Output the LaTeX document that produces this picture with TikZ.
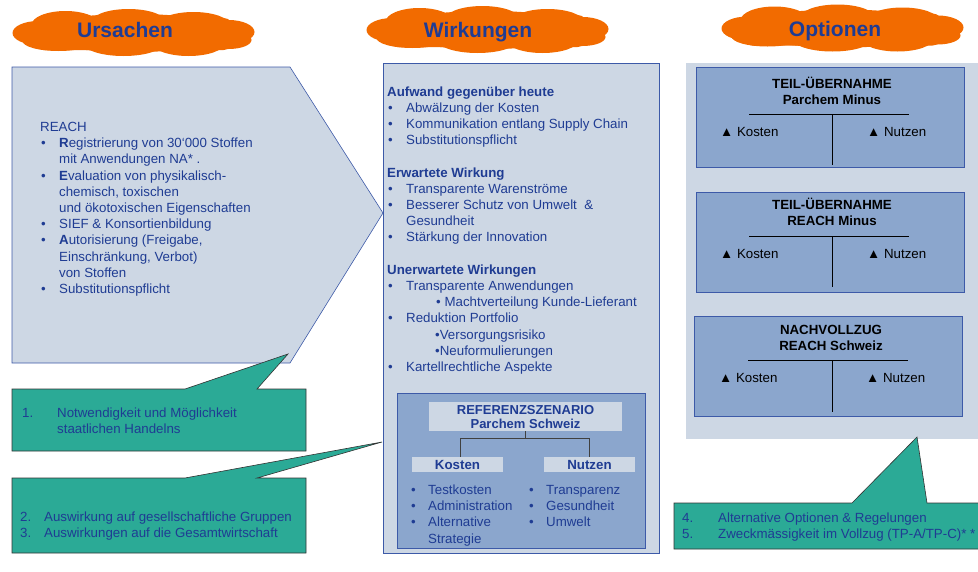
\documentclass[tikz,border=0pt]{standalone}
\usepackage{fontspec}
\setmainfont{Liberation Sans}
\definecolor{lightfill}{HTML}{CDD7E4}
\definecolor{midblue}{HTML}{8BA6CD}
\definecolor{tealc}{HTML}{2BAA96}
\definecolor{orangec}{HTML}{F26B00}
\definecolor{txtblue}{HTML}{1F3C93}
\definecolor{bordc}{HTML}{3D5AA8}
\newcommand\fsz{\fontsize{13.3}{16.2}\selectfont}
\newcommand\bitem[2][19pt]{\makebox[#1][l]{\hspace{1pt}•}#2}
\newcommand\bcont[2][19pt]{\hspace*{#1}#2}
\newcommand\orcloud[1]{%
 \begin{scope}[shift={#1}]
  \fill[orangec, rounded corners=10pt] (-100,-15) rectangle (100,17);
  \fill[orangec] (0,0) ellipse [x radius=106, y radius=19];
  \fill[orangec] (-68,-8) ellipse [x radius=34, y radius=14];
  \fill[orangec] (-5,-10) ellipse [x radius=38, y radius=14];
  \fill[orangec] (60,-8) ellipse [x radius=36, y radius=13];
  \fill[orangec] (95,-1) ellipse [x radius=26, y radius=12];
  \fill[orangec] (-95,0) ellipse [x radius=26, y radius=12];
  \fill[orangec] (-75,8) ellipse [x radius=36, y radius=10];
  \fill[orangec] (-10,10) ellipse [x radius=40, y radius=13];
  \fill[orangec] (55,10) ellipse [x radius=36, y radius=13];
  \fill[orangec] (95,7) ellipse [x radius=23, y radius=9];
 \end{scope}}
\begin{document}
\begin{tikzpicture}[x=1pt,y=-1pt,
  cloudtxt/.style={anchor=base, inner sep=0pt, text=txtblue, font=\fontsize{21}{24}\selectfont\bfseries},
  txt/.style={anchor=base west, inner sep=0pt, text=txtblue, font=\fsz},
  blk/.style={anchor=base, inner sep=0pt, text=black, font=\fontsize{13.3}{16}\selectfont\bfseries},
  optbox/.style={draw=bordc, fill=midblue, line width=0.6pt, minimum width=268pt, minimum height=100pt, inner sep=0pt},
  lbox/.style={fill=lightfill, draw=none, inner sep=0pt},
  callout/.style={fill=tealc, draw=black!80, line width=0.6pt},
  thin/.style={draw=black, line width=0.6pt}
]
\useasboundingbox (0,0) rectangle (978,571);

% clouds
\orcloud{(133.5,33)}
\orcloud{(487.5,30)}
\orcloud{(842.5,28.5)}
\node[cloudtxt] (cu) at (125,37) {Ursachen};
\node[cloudtxt] (cw) at (478,37) {Wirkungen};
\node[cloudtxt] (co) at (835,36) {Optionen};

% Ursachen arrow shape
\draw[fill=lightfill, draw=bordc, line width=0.6pt] (12,67) -- (290,67) -- (383,213) -- (290,363) -- (12,363) -- cycle;
\node[txt] (utext) at (40,131.5) {\begin{tabular}[t]{@{}l@{}}
REACH\\
\bitem{\textbf{R}egistrierung von 30‘000 Stoffen}\\
\bcont{mit Anwendungen NA* .}\\
\bitem{\textbf{E}valuation von physikalisch-}\\
\bcont{chemisch, toxischen}\\
\bcont{und ökotoxischen Eigenschaften}\\
\bitem{SIEF \& Konsortienbildung}\\
\bitem{\textbf{A}utorisierung (Freigabe,}\\
\bcont{Einschränkung, Verbot)}\\
\bcont{von Stoffen}\\
\bitem{Substitutionspflicht}
\end{tabular}};

% Wirkungen box
\draw[fill=lightfill, draw=bordc, line width=0.6pt] (383,63) rectangle (659,553);
\node[txt] (wtext) at (387,96) {\begin{tabular}[t]{@{}l@{}}
\textbf{Aufwand gegenüber heute}\\
\bitem{Abwälzung der Kosten}\\
\bitem{Kommunikation entlang Supply Chain}\\
\bitem{Substitutionspflicht}\\
\mbox{}\\
\textbf{Erwartete Wirkung}\\
\bitem{Transparente Warenströme}\\
\bitem{Besserer Schutz von Umwelt \ \&}\\
\bcont{Gesundheit}\\
\bitem{Stärkung der Innovation}\\
\mbox{}\\
\textbf{Unerwartete Wirkungen}\\
\bitem{Transparente Anwendungen}\\
\bcont[49pt]{• Machtverteilung Kunde-Lieferant}\\
\bitem{Reduktion Portfolio}\\
\bcont[48pt]{•Versorgungsrisiko}\\
\bcont[48pt]{•Neuformulierungen}\\
\bitem{Kartellrechtliche Aspekte}
\end{tabular}};

% Referenzszenario
\draw[fill=midblue, draw=bordc, line width=0.6pt] (397,393) rectangle (645,548);
\node[lbox, minimum width=193pt, minimum height=29pt] (hdr) at (525.5,416.5) {};
\node[blk, text=txtblue, font=\fontsize{13}{14}\selectfont\bfseries] (hdrt) at (525.5,414) {\begin{tabular}[t]{@{}c@{}}REFERENZSZENARIO\\Parchem Schweiz\end{tabular}};
\node[lbox, minimum width=91pt, minimum height=15pt] (kos) at (457.5,464.5) {};
\node[lbox, minimum width=91pt, minimum height=15pt] (nut) at (589.5,464.5) {};
\node[blk, text=txtblue] (kost) at (457.5,469) {Kosten};
\node[blk, text=txtblue] (nutt) at (589.5,469) {Nutzen};
\draw[thin, draw=black!75] (hdr.south) -- (525.5,438) -| (460,457);
\draw[thin, draw=black!75] (525.5,438) -| (589,457);
\node[txt] (klist) at (410,494.5) {\begin{tabular}[t]{@{}l@{}}
\bitem[18pt]{Testkosten}\\
\bitem[18pt]{Administration}\\
\bitem[18pt]{Alternative}\\
\bcont[18pt]{Strategie}
\end{tabular}};
\node[txt] (nlist) at (528,494.5) {\begin{tabular}[t]{@{}l@{}}
\bitem[18pt]{Transparenz}\\
\bitem[18pt]{Gesundheit}\\
\bitem[18pt]{Umwelt}
\end{tabular}};

% Optionen
\fill[lightfill] (686,63) rectangle (980,439);
\node[optbox] (o1) at (830,117) {};
\node[optbox] (o2) at (830,242) {};
\node[optbox] (o3) at (828.5,366) {};
\node[blk] (o1t) at (832,88.5) {\begin{tabular}[t]{@{}c@{}}TEIL-ÜBERNAHME\\Parchem Minus\end{tabular}};
\node[blk] (o2t) at (832,209.5) {\begin{tabular}[t]{@{}c@{}}TEIL-ÜBERNAHME\\REACH Minus\end{tabular}};
\node[blk] (o3t) at (831,334.5) {\begin{tabular}[t]{@{}c@{}}NACHVOLLZUG\\REACH Schweiz\end{tabular}};
\draw[thin] (749,114) -- (909,114); \draw[thin] (832,114) -- (832,165);
\draw[thin] (749,236) -- (909,236); \draw[thin] (832,236) -- (832,287);
\draw[thin] (748,360) -- (908,360); \draw[thin] (832,360) -- (832,412);
\node[txt, text=black] (o1k) at (720,136.5) {▲ Kosten};
\node[txt, text=black] (o1n) at (867,136.5) {▲ Nutzen};
\node[txt, text=black] (o2k) at (720,258.5) {▲ Kosten};
\node[txt, text=black] (o2n) at (867,258.5) {▲ Nutzen};
\node[txt, text=black] (o3k) at (719,382.5) {▲ Kosten};
\node[txt, text=black] (o3n) at (866,382.5) {▲ Nutzen};

% callouts
\draw[callout] (12,389) -- (185,389) -- (288,354) -- (257,389) -- (306,389) -- (306,451) -- (12,451) -- cycle;
\draw[callout] (12,478) -- (185,478) -- (382,442) -- (257,478) -- (306,478) -- (306,553) -- (12,553) -- cycle;
\draw[callout] (674,503) -- (852,503) -- (917,437) -- (927,503) -- (982,503) -- (982,549) -- (674,549) -- cycle;
\node[txt] (c1) at (22,417.5) {\begin{tabular}[t]{@{}l@{}}
\makebox[35pt][l]{1.}Notwendigkeit und Möglichkeit\\
\hspace*{35pt}staatlichen Handelns
\end{tabular}};
\node[txt] (c2) at (20,521.5) {\begin{tabular}[t]{@{}l@{}}
\makebox[24pt][l]{2.}Auswirkung auf gesellschaftliche Gruppen\\
\makebox[24pt][l]{3.}Auswirkungen auf die Gesamtwirtschaft
\end{tabular}};
\node[txt] (c3) at (682,522.5) {\begin{tabular}[t]{@{}l@{}}
\makebox[36pt][l]{4.}Alternative Optionen \& Regelungen\\
\makebox[36pt][l]{5.}Zweckmässigkeit im Vollzug (TP-A/TP-C)* *
\end{tabular}};
\end{tikzpicture}
\end{document}
